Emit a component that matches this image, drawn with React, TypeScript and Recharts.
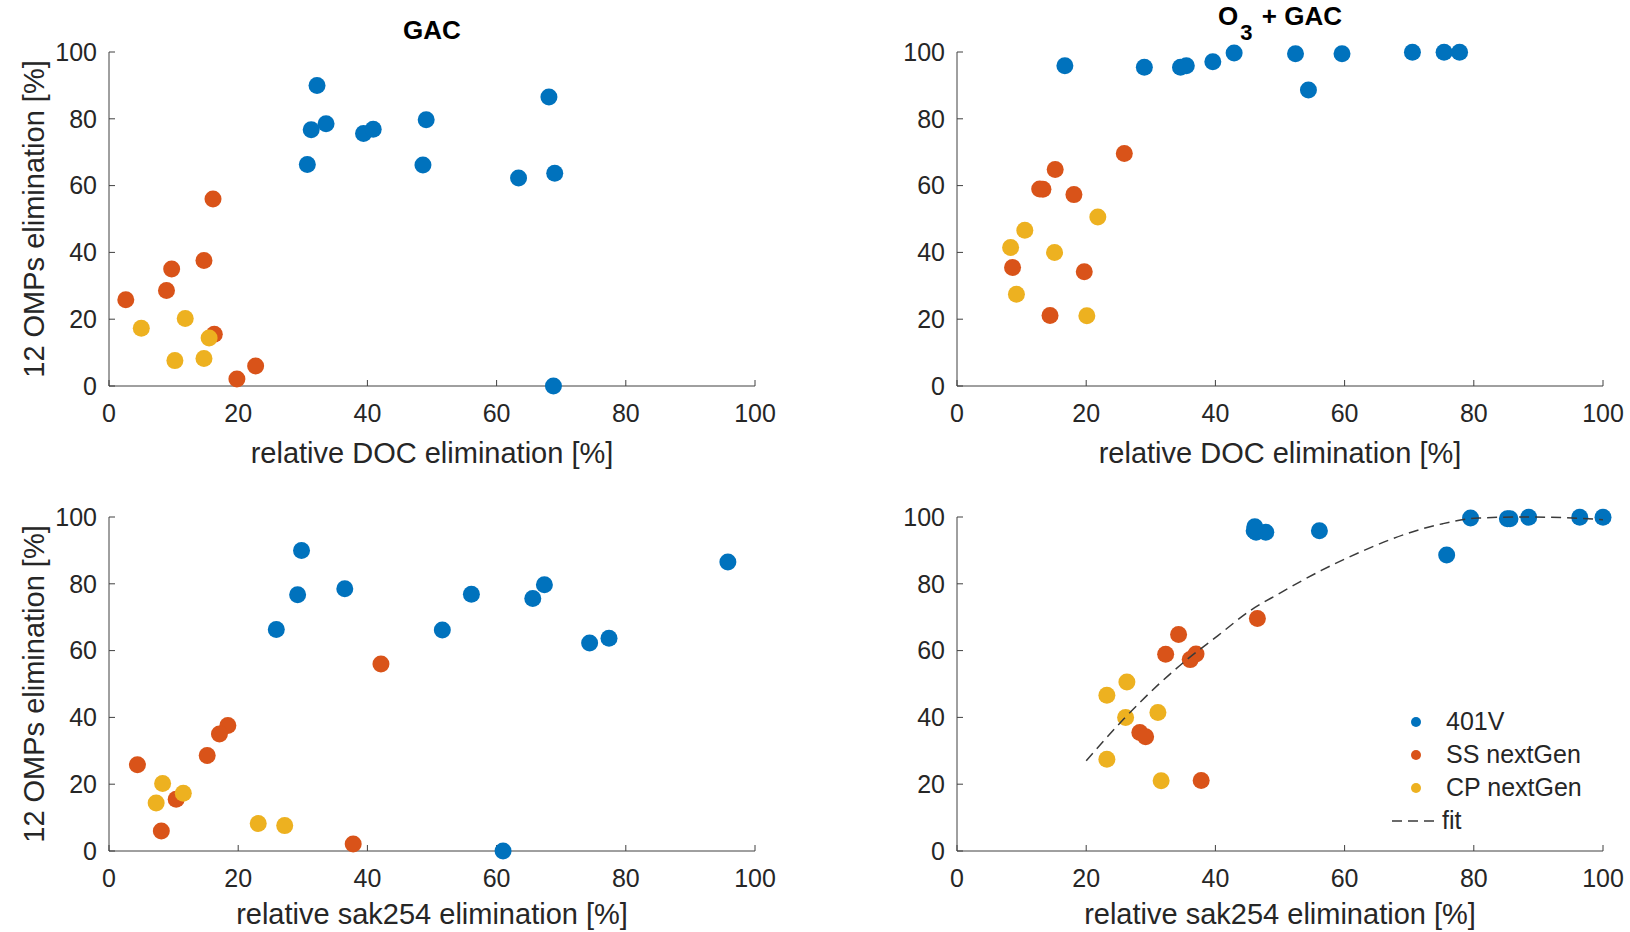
import React from 'react';
import { ScatterChart, Scatter, XAxis, YAxis, Legend } from 'recharts';

const seriesNames = ['401V', 'SS nextGen', 'CP nextGen'];
const seriesColors = ['#0072BD', '#D95319', '#EDB120'];
const axisTicks = [0, 20, 40, 60, 80, 100];

// GAC: OMP elimination with matching DOC / SAK254 elimination per sample
const gac401vOmp = [90.0, 76.7, 78.5, 66.3, 66.2, 75.6, 76.9, 79.7, 86.5, 62.3, 63.7, 0.0];
const gac401vDoc = [32.2, 31.3, 33.6, 30.7, 48.6, 39.4, 40.9, 49.1, 68.1, 63.4, 69.0, 68.8];
const gac401vSak = [29.8, 29.2, 36.5, 25.9, 51.6, 65.6, 56.1, 67.4, 95.8, 74.4, 77.4, 61.0];

const gacSsOmp = [56.0, 37.6, 35.0, 28.6, 25.8, 15.5, 6.0, 2.1];
const gacSsDoc = [16.1, 14.7, 9.7, 8.9, 2.6, 16.3, 22.7, 19.8];
const gacSsSak = [42.1, 18.4, 17.1, 15.2, 4.4, 10.4, 8.1, 37.8];

const gacCpOmp = [20.2, 17.3, 14.4, 8.2, 7.6];
const gacCpDoc = [11.8, 5.0, 15.5, 14.7, 10.2];
const gacCpSak = [8.3, 11.5, 7.3, 23.1, 27.2];

// O3 + GAC
const o3401vOmp = [95.9, 95.4, 95.4, 95.9, 97.1, 99.7, 99.5, 88.6, 99.5, 99.9, 99.9, 99.9];
const o3401vDoc = [16.7, 29.0, 34.6, 35.5, 39.6, 42.9, 52.4, 54.4, 59.6, 70.5, 75.4, 77.8];
const o3401vSak = [56.1, 46.3, 47.8, 46.0, 46.1, 79.5, 85.2, 75.8, 85.6, 88.5, 96.4, 100];

const o3SsOmp = [69.6, 64.8, 58.9, 59.0, 57.3, 35.5, 34.2, 21.1];
const o3SsDoc = [25.9, 15.2, 13.3, 12.8, 18.1, 8.6, 19.7, 14.4];
const o3SsSak = [46.5, 34.3, 32.3, 37.0, 36.1, 28.3, 29.2, 37.8];

const o3CpOmp = [50.6, 46.6, 41.5, 40.0, 27.5, 21.0];
const o3CpDoc = [21.8, 10.5, 8.3, 15.1, 9.2, 20.1];
const o3CpSak = [26.3, 23.2, 31.1, 26.1, 23.2, 31.6];

// fit curve (O3 + GAC vs SAK254)
const fitSak = [20, 25.8, 31, 35.4, 40.4, 45.4, 49.8, 56.4, 63, 69.6, 75.2, 80.7, 88, 94, 100];
const fitOmp = [27, 39.5, 49.5, 57, 64.5, 72, 77, 84, 90, 95, 98, 99.7, 100, 99.8, 99.2];

const zip = (xs: number[], ys: number[]) => xs.map((x, i) => ({ x, y: ys[i] }));

const FONT = '"Liberation Sans", Arial, Helvetica, sans-serif';
const TEXT = '#262626';
const AXIS = '#404040';

const dotShape = (color: string) => (p: any) => (
  <circle cx={p.cx} cy={p.cy} r={8.5} fill={color} />
);

const yLabel = () => (
  <text
    x={44}
    y={219}
    transform="rotate(-90 44 219)"
    textAnchor="middle"
    fontSize={29}
    fontFamily={FONT}
    fill={TEXT}
  >
    12 OMPs elimination [%]
  </text>
);

const legendContent = () => (
  <div style={{ fontFamily: FONT, fontSize: 25, color: TEXT }}>
    {seriesNames.map((name, i) => (
      <div key={name} style={{ display: 'flex', alignItems: 'center', height: 33, lineHeight: '33px' }}>
        <div style={{ width: 52, height: 33, position: 'relative' }}>
          <div
            style={{
              position: 'absolute', left: 23, top: 11.5, width: 10, height: 10,
              borderRadius: '50%', background: seriesColors[i],
            }}
          />
        </div>
        <span style={{ marginLeft: 6 }}>{name}</span>
      </div>
    ))}
    <div style={{ display: 'flex', alignItems: 'center', height: 33, lineHeight: '33px' }}>
      <svg width={52} height={33}>
        <line x1={4} y1={17} x2={52} y2={17} stroke="#3a3a3a" strokeWidth={1.5} strokeDasharray="10 6" />
      </svg>
      <span style={{ marginLeft: 2 }}>fit</span>
    </div>
  </div>
);

type PanelProps = {
  left: number;
  top: number;
  width: number;
  height: number;
  marginRight: number;
  sets: { x: number; y: number }[][];
  xLabel: string;
  labelOffset: number;
  showYLabel?: boolean;
  fit?: { x: number; y: number }[];
  legend?: boolean;
};

function Panel({ left, top, width, height, marginRight, sets, xLabel, labelOffset, showYLabel, fit, legend }: PanelProps) {
  const tickStyle = { fontSize: 25, fill: TEXT, fontFamily: FONT };
  // plot area is always 334 px tall starting 52 px below the chart top
  const bottom = height - 52 - 334 - 40;
  return (
    <div style={{ position: 'absolute', left, top }}>
      <ScatterChart width={width} height={height} margin={{ top: 52, right: marginRight, bottom, left: 49 }}>
        <XAxis
          type="number"
          dataKey="x"
          domain={[0, 100]}
          ticks={axisTicks}
          interval={0}
          height={40}
          tickSize={-6}
          tickMargin={24}
          stroke={AXIS}
          tick={tickStyle}
          label={{ value: xLabel, position: 'bottom', offset: labelOffset, fontSize: 29, fill: TEXT, fontFamily: FONT }}
        />
        <XAxis
          xAxisId="top"
          orientation="top"
          type="number"
          domain={[0, 100]}
          ticks={axisTicks}
          interval={0}
          height={0}
          mirror
          tickSize={6}
          tick={false}
          stroke={AXIS}
        />
        <YAxis
          type="number"
          dataKey="y"
          domain={[0, 100]}
          ticks={axisTicks}
          interval={0}
          width={60}
          tickSize={-6}
          tickMargin={18}
          stroke={AXIS}
          tick={tickStyle}
          label={showYLabel ? { value: '12 OMPs elimination [%]', content: yLabel } : undefined}
        />
        <YAxis
          yAxisId="right"
          orientation="right"
          type="number"
          domain={[0, 100]}
          ticks={axisTicks}
          interval={0}
          width={0}
          mirror
          tickSize={6}
          tick={false}
          stroke={AXIS}
        />
        {sets.map((pts, i) => (
          <Scatter
            key={seriesNames[i]}
            name={seriesNames[i]}
            data={pts}
            fill={seriesColors[i]}
            shape={dotShape(seriesColors[i])}
            isAnimationActive={false}
          />
        ))}
        {fit && (
          <Scatter
            name="fit"
            data={fit}
            fill="#3a3a3a"
            line={{ stroke: '#3a3a3a', strokeWidth: 1.5, strokeDasharray: '10 6' }}
            lineJointType="monotoneX"
            shape={() => <g />}
            isAnimationActive={false}
          />
        )}
        {legend && (
          <Legend
            layout="vertical"
            align="center"
            verticalAlign="middle"
            content={legendContent}
            wrapperStyle={{ position: 'absolute', left: 540, top: 240, width: 220, height: 140 }}
          />
        )}
      </ScatterChart>
    </div>
  );
}

const titleStyle: React.CSSProperties = {
  position: 'absolute',
  width: 400,
  textAlign: 'center',
  fontFamily: FONT,
  fontWeight: 'bold',
  fontSize: 26,
  lineHeight: '26px',
  color: '#000',
  whiteSpace: 'nowrap',
};

export default function App() {
  return (
    <div style={{ position: 'absolute', left: 0, top: 0, width: 1630, height: 932, overflow: 'hidden', background: '#fff' }}>
      <Panel
        left={0}
        top={0}
        width={815}
        height={476}
        marginRight={60}
        sets={[zip(gac401vDoc, gac401vOmp), zip(gacSsDoc, gacSsOmp), zip(gacCpDoc, gacCpOmp)]}
        xLabel="relative DOC elimination [%]"
        labelOffset={16}
        showYLabel
      />
      <Panel
        left={848}
        top={0}
        width={782}
        height={476}
        marginRight={27}
        sets={[zip(o3401vDoc, o3401vOmp), zip(o3SsDoc, o3SsOmp), zip(o3CpDoc, o3CpOmp)]}
        xLabel="relative DOC elimination [%]"
        labelOffset={16}
      />
      <Panel
        left={0}
        top={465}
        width={815}
        height={467}
        marginRight={60}
        sets={[zip(gac401vSak, gac401vOmp), zip(gacSsSak, gacSsOmp), zip(gacCpSak, gacCpOmp)]}
        xLabel="relative sak254 elimination [%]"
        labelOffset={12}
        showYLabel
      />
      <Panel
        left={848}
        top={465}
        width={782}
        height={467}
        marginRight={27}
        sets={[zip(o3401vSak, o3401vOmp), zip(o3SsSak, o3SsOmp), zip(o3CpSak, o3CpOmp)]}
        xLabel="relative sak254 elimination [%]"
        labelOffset={12}
        fit={zip(fitSak, fitOmp)}
        legend
      />
      <div style={{ ...titleStyle, left: 232, top: 17 }}>GAC</div>
      <div style={{ ...titleStyle, left: 1080, top: 3 }}>
        O<span style={{ fontSize: 22, position: 'relative', top: 15, margin: '0 2px' }}>3</span> + GAC
      </div>
    </div>
  );
}
